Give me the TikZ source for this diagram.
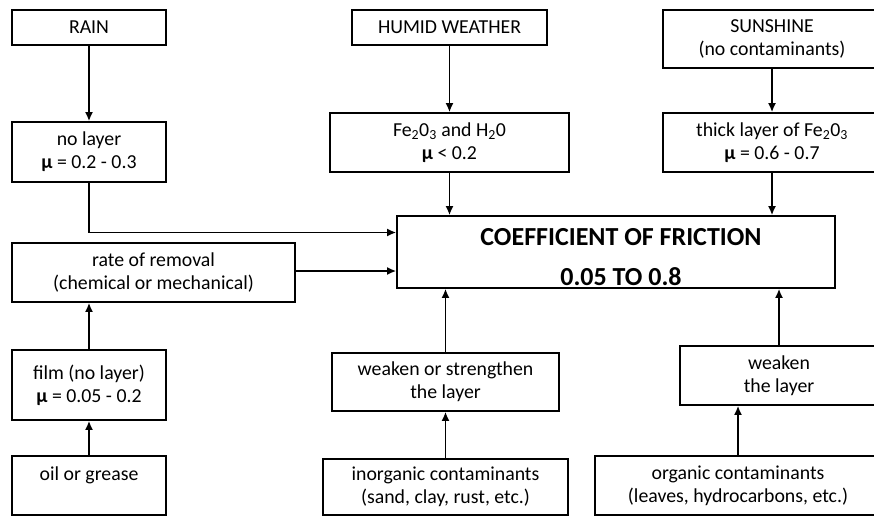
\documentclass[tikz,border=0pt]{standalone}
\usepackage{fontspec}
\setmainfont{Carlito}
\usetikzlibrary{arrows.meta,calc}
\begin{document}
\begin{tikzpicture}[x=1pt,y=-1pt,
  box/.style={draw=black,line width=1.6pt,rectangle,align=center,inner sep=0pt,
    font=\fontsize{19.8}{23}\selectfont},
  bigbox/.style={box,font=\fontsize{26}{40}\selectfont\bfseries},
  arr/.style={line width=1.8pt,-{Latex[length=9pt,width=8pt]}}]
\useasboundingbox (0,0) rectangle (874,516);
\clip (0,0) rectangle (874,516);
\fill[white] (0,0) rectangle (874,516);
% left column
\node[box,minimum width=154pt,minimum height=35pt] (rain) at (89,27.5) {RAIN};
\node[box,minimum width=154pt,minimum height=60pt] (nolayer) at (89,152) {no layer\\{\bfseries μ} = 0.2 - 0.3};
\node[box,minimum width=283pt,minimum height=59pt] (removal) at (153.5,272.5) {rate of removal\\(chemical or mechanical)};
\node[box,minimum width=154pt,minimum height=70pt] (film) at (89,385) {film (no layer)\\{\bfseries μ} = 0.05 - 0.2};
\node[box,minimum width=154pt,minimum height=59pt] (oil) at (89,485.5) {oil or grease\\\mbox{}};
% middle column
\node[box,minimum width=195pt,minimum height=35pt] (humid) at (449.5,27.5) {HUMID WEATHER};
\node[box,minimum width=239pt,minimum height=59pt] (fe) at (449.5,142.5) {Fe\textsubscript{2}0\textsubscript{3} and H\textsubscript{2}0\\{\bfseries μ} {<} 0.2};
\node[bigbox,minimum width=438pt,minimum height=72pt] (coef) at (616,252) {};
\node[font=\fontsize{26}{40}\selectfont\bfseries,align=center,inner sep=0pt] (coeftext) at (621,257) {COEFFICIENT OF FRICTION\\0.05 TO 0.8};
\node[box,minimum width=227pt,minimum height=58pt] (ws) at (445.5,382) {weaken or strengthen\\the layer};
\node[box,minimum width=245pt,minimum height=56pt] (inorg) at (445.5,487) {inorganic contaminants\\(sand, clay, rust, etc.)};
% right column
\node[box,minimum width=218pt,minimum height=58pt] (sun) at (772,39) {SUNSHINE\\(no contaminants)};
\node[box,minimum width=218pt,minimum height=59pt] (thick) at (772,142.5) {thick layer of Fe\textsubscript{2}0\textsubscript{3}\\{\bfseries μ} = 0.6 - 0.7};
\node[box,minimum width=198pt,minimum height=59pt] (weak) at (779,375.5) {weaken\\the layer};
\node[box,minimum width=286pt,minimum height=59pt] (org) at (738,485.5) {organic contaminants\\(leaves, hydrocarbons, etc.)};
% connectors
\draw[arr] (rain) -- (nolayer);
\draw[arr] (nolayer.south) |- (coef.west |- 0,232.5);
\draw[arr] (removal.east |- 0,271) -- (coef.west |- 0,271);
\draw[arr] (film) -- (removal.south -| film.north);
\draw[arr] (oil) -- (film);
\draw[arr] (humid) -- (fe);
\draw[arr] (fe.south) -- (coef.north -| fe.south);
\draw[arr] (sun) -- (thick);
\draw[arr] (thick.south) -- (coef.north -| thick.south);
\draw[arr] (inorg) -- (ws);
\draw[arr] (ws.north) -- (coef.south -| ws.north);
\draw[arr] (org.north) -- (weak.south -| org.north);
\draw[arr] (weak.north) -- (coef.south -| weak.north);
\end{tikzpicture}
\end{document}
